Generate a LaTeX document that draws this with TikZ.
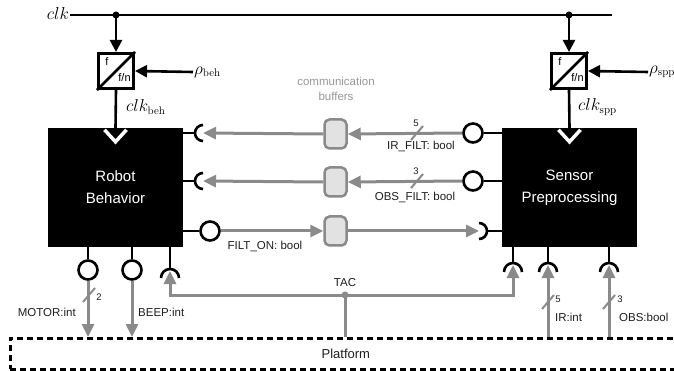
\documentclass[tikz,border=0pt]{standalone}
\usepackage[no-math]{fontspec}
\setmainfont{Liberation Sans}
\usetikzlibrary{arrows.meta,calc}
\definecolor{gline}{RGB}{138,138,138}
\definecolor{gfill}{RGB}{226,226,226}
\definecolor{gtext}{RGB}{150,150,150}
\definecolor{ltext}{RGB}{30,30,30}
\tikzset{
  bl/.style={line width=2.6pt, draw=black},
  gl/.style={line width=3pt, draw=gline},
  garr/.style={gl, -{Triangle[length=13pt,width=12pt]}},
  barr/.style={bl, -{Triangle[length=12pt,width=12pt]}},
  pc/.style={circle, draw=black, line width=2.6pt, fill=white, minimum size=19pt, inner sep=0pt},
  blk/.style={fill=black, minimum width=135pt, minimum height=119pt, text=white, align=center, font=\fontsize{15}{22}\selectfont, inner sep=0pt},
  bufs/.style={draw=gline, fill=gfill, line width=2.5pt, rounded corners=5pt, minimum width=22pt, minimum height=29pt, inner sep=0pt},
  divs/.style={draw=black, line width=2.6pt, minimum size=35.5pt, inner sep=0pt, fill=white},
  lbl/.style={font=\fontsize{11.5}{15}\selectfont, text=ltext, inner sep=1pt},
  num/.style={font=\fontsize{9.5}{10}\selectfont, text=ltext, inner sep=1pt},
  mth/.style={font=\fontsize{16}{18}\selectfont, inner sep=1pt},
  sl/.style={line width=2pt, draw=gline},
  platf/.style={draw=black, line width=2.6pt, dash pattern=on 6pt off 4pt, minimum width=671pt, minimum height=31pt, anchor=north west, font=\fontsize{13}{15}\selectfont, text=ltext}
}
\begin{document}
\begin{tikzpicture}[x=1pt,y=1pt]
\useasboundingbox (0,0) rectangle (674,-371);
% main blocks
\node[blk] (beh) at (115.5,-187.5) {Robot\\Behavior};
\node[blk] (spp) at (569.5,-187.5) {Sensor\\Preprocessing};
% dividers
\node[divs] (dv1) at (116,-71) {};
\node[divs] (dv2) at (569,-71) {};
\draw[bl] (dv1.south west) -- (dv1.north east);
\draw[bl] (dv2.south west) -- (dv2.north east);
\node[font=\fontsize{11}{12}\selectfont, inner sep=0pt] (f1) at (107,-62) {f};
\node[font=\fontsize{11}{12}\selectfont, inner sep=0pt] (fn1) at (124.5,-78) {f/n};
\node[font=\fontsize{11}{12}\selectfont, inner sep=0pt] (f2) at (560,-62) {f};
\node[font=\fontsize{11}{12}\selectfont, inner sep=0pt] (fn2) at (577.5,-78) {f/n};
% buffers
\node[bufs] (bf1) at (335.5,-134) {};
\node[bufs] (bf2) at (335.5,-182) {};
\node[bufs] (bf3) at (335.5,-231) {};
\node[lbl, text=gtext, align=center] (cbuf) at (336,-89) {communication\\buffers};
% clock
\node[mth] (clk) at (58,-14) {$clk$};
\coordinate (ce) at (612,-15);
\coordinate (j1) at (116,-15);
\coordinate (j2) at (569,-15);
\draw[bl] (clk.east |- ce) -- (ce);
\fill (j1) circle (3.5);
\fill (j2) circle (3.5);
\draw[barr] (j1) -- (dv1.north);
\draw[barr] (j2) -- (dv2.north);
\node[mth, anchor=west] (rb) at (193,-72) {$\rho_{\mathrm{beh}}$};
\node[mth, anchor=west] (rs) at (648,-72) {$\rho_{\mathrm{spp}}$};
\draw[barr] (rb.west) -- (dv1.east);
\draw[barr] (rs.west) -- (dv2.east);
\draw[bl] (dv1.south) -- (beh.north);
\draw[bl] (dv2.south) -- (spp.north);
\draw[white, line width=3.5pt] ($(beh.north)+(-11,-2)$) -- ($(beh.north)+(0,-14)$) -- ($(beh.north)+(11,-2)$);
\draw[white, line width=3.5pt] ($(spp.north)+(-11,-2)$) -- ($(spp.north)+(0,-14)$) -- ($(spp.north)+(11,-2)$);
\node[mth, anchor=west] (cb) at (125,-107) {$clk_{\mathrm{beh}}$};
\node[mth, anchor=west] (cs) at (577,-107) {$clk_{\mathrm{spp}}$};
% behavior right ports
\coordinate (bs1) at (203,-133);
\coordinate (bs2) at (203,-181);
\node[pc] (bo3) at (210,-231) {};
\draw[bl] (beh.east |- bs1) -- ($(bs1)+(-8,0)$);
\draw[bl] ($(bs1)+(0,8)$) arc[start angle=90, end angle=270, radius=8pt];
\draw[bl] (beh.east |- bs2) -- ($(bs2)+(-8,0)$);
\draw[bl] ($(bs2)+(0,8)$) arc[start angle=90, end angle=270, radius=8pt];
\draw[bl] (beh.east |- bo3) -- (bo3.west);
% sensor left ports
\node[pc] (so1) at (473,-133) {};
\node[pc] (so2) at (473,-181) {};
\coordinate (ss3) at (479,-231);
\draw[bl] (so1.east) -- (spp.west |- so1);
\draw[bl] (so2.east) -- (spp.west |- so2);
\draw[bl] ($(ss3)+(8,0)$) -- (spp.west |- ss3);
\draw[bl] ($(ss3)+(0,8)$) arc[start angle=90, end angle=-90, radius=8pt];
% behavior bottom ports
\node[pc] (bo4) at (88,-270) {};
\node[pc] (bo5) at (132,-270) {};
\coordinate (bs6) at (170,-278);
\coordinate (bt6) at (170,-271);
\draw[bl] (beh.south -| bo4) -- (bo4.north);
\draw[bl] (beh.south -| bo5) -- (bo5.north);
\draw[bl] (beh.south -| bs6) -- ($(bs6)+(0,9)$);
\draw[bl] ($(bs6)+(-9,0)$) arc[start angle=180, end angle=0, radius=9pt];
% sensor bottom ports
\coordinate (ss7) at (513,-272);
\coordinate (ss8) at (548,-272);
\coordinate (ss9) at (609,-272);
\coordinate (bt7) at (513,-265);
\coordinate (bt8) at (548,-265);
\coordinate (bt9) at (609,-265);
\foreach \p in {ss7,ss8,ss9}{
  \draw[bl] (spp.south -| \p) -- ($(\p)+(0,9)$);
  \draw[bl] ($(\p)+(-9,0)$) arc[start angle=180, end angle=0, radius=9pt];
}
% platform
\node[platf] (plat) at (9,-337) {Platform};
% grey connectors
\draw[garr] (so1.west) -- (bf1.east);
\draw[garr] (bf1.west) -- (bs1);
\draw[garr] (so2.west) -- (bf2.east);
\draw[garr] (bf2.west) -- (bs2);
\draw[garr] (bo3.east) -- (bf3.west);
\draw[garr] (bf3.east) -- (ss3);
\draw[garr] (bo4.south) -- (bo4 |- plat.north);
\draw[garr] (bo5.south) -- (bo5 |- plat.north);
\coordinate (tac) at (345,-295);
\draw[gl] (plat.north -| tac) -- (tac);
\draw[garr] (tac) -| (bt6);
\draw[garr] (tac) -| (bt7);
\fill[gline] (tac) circle (3.5);
\draw[garr] (plat.north -| bt8) -- (bt8);
\draw[garr] (plat.north -| bt9) -- (bt9);
% bus slashes
\foreach \cx/\cy in {417/-133,417/-181,89/-295,548/-302,609/-302}{
  \draw[sl] (\cx-6,\cy-7) -- (\cx+6,\cy+7);
}
\node[num] (n1) at (416,-123) {5};
\node[num] (n2) at (416,-171) {3};
\node[num] (n3) at (99,-297) {2};
\node[num] (n4) at (558,-299) {5};
\node[num] (n5) at (620,-299) {3};
% labels
\node[lbl] (l1) at (421,-146) {IR\_FILT: bool};
\node[lbl] (l2) at (415,-197) {OBS\_FILT: bool};
\node[lbl] (l3) at (265,-246) {FILT\_ON: bool};
\node[lbl] (l4) at (345,-283) {TAC};
\node[lbl, anchor=east] (l5) at (77,-312) {MOTOR:int};
\node[lbl, anchor=west] (l6) at (137,-312) {BEEP:int};
\node[lbl, anchor=west] (l7) at (554,-317) {IR:int};
\node[lbl, anchor=west] (l8) at (618,-317) {OBS:bool};
\end{tikzpicture}
\end{document}
